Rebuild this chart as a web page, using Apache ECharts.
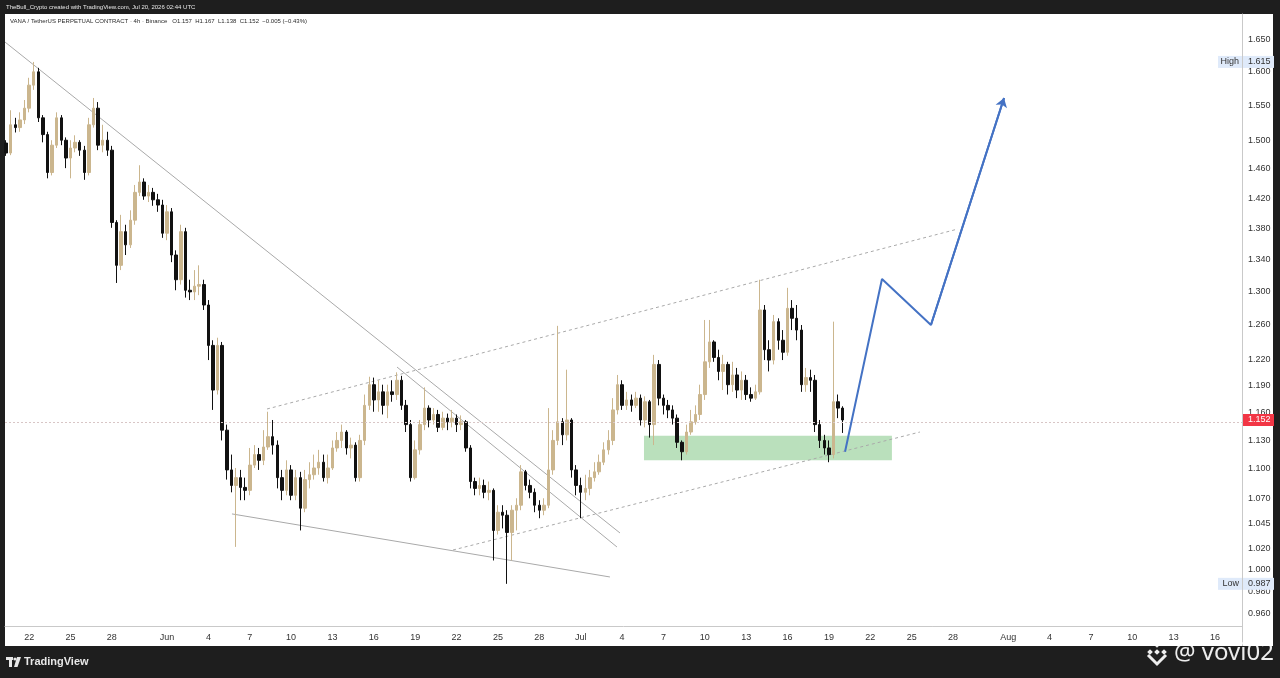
<!DOCTYPE html>
<html>
<head>
<meta charset="utf-8">
<script src="https://cdn.jsdelivr.net/npm/echarts@6/dist/echarts.min.js"></script>
<style>
html,body{margin:0;padding:0;background:#1e1e1e;}
#wrap{position:relative;width:1280px;height:678px;background:#1e1e1e;overflow:hidden;}
#paper{position:absolute;left:5px;top:14px;width:1268px;height:632px;background:#ffffff;}
#c{position:absolute;left:0;top:0;width:1280px;height:678px;}
</style>
</head>
<body>
<div id="wrap"><div id="paper"></div><div id="c"></div></div>
<script>
// ---------------- data ----------------
const candleStart = '2026-05-20T08:00:00Z';   // first candle open time
const candleHours = 8;                         // candle interval

const opens = [
1.496,1.482,1.522,1.518,1.529,1.546,1.580,1.600,1.532,1.508,
1.455,1.493,1.532,1.500,1.475,1.489,1.497,1.486,1.455,1.522,
1.546,1.493,1.500,1.486,1.388,1.333,1.376,1.359,1.391,1.428,
1.442,1.423,1.428,1.418,1.411,1.374,1.402,1.346,1.315,1.376,
1.302,1.300,1.307,1.309,1.284,1.236,1.185,1.236,1.141,1.099,
1.083,1.091,1.081,1.078,1.104,1.115,1.109,1.123,1.134,1.125,
1.091,1.078,1.099,1.073,1.091,1.060,1.089,1.094,1.101,1.107,
1.091,1.101,1.122,1.130,1.139,1.122,1.125,1.091,1.130,1.168,
1.191,1.174,1.183,1.168,1.183,1.180,1.196,1.168,1.147,1.091,
1.120,1.147,1.165,1.152,1.158,1.144,1.154,1.150,1.154,1.147,
1.150,1.122,1.087,1.080,1.083,1.076,1.078,1.038,1.056,1.053,
1.036,1.058,1.063,1.097,1.083,1.076,1.063,1.058,1.063,1.099,
1.130,1.150,1.136,1.152,1.099,1.083,1.076,1.080,1.091,1.097,
1.107,1.120,1.130,1.163,1.191,1.168,1.174,1.168,1.176,1.152,
1.172,1.147,1.214,1.176,1.168,1.163,1.154,1.128,1.118,1.139,
1.150,1.158,1.180,1.217,1.240,1.222,1.206,1.214,1.191,1.202,
1.185,1.196,1.180,1.176,1.183,1.278,1.231,1.219,1.264,1.242,
1.228,1.280,1.268,1.254,1.191,1.199,1.196,1.147,1.130,1.122,
1.115,1.172,1.165
];
const closes = [
1.482,1.522,1.518,1.529,1.546,1.580,1.600,1.532,1.508,1.455,
1.493,1.532,1.500,1.475,1.489,1.497,1.486,1.455,1.522,1.546,
1.493,1.500,1.486,1.388,1.333,1.376,1.359,1.391,1.428,1.442,
1.423,1.428,1.418,1.411,1.374,1.402,1.346,1.315,1.376,1.302,
1.300,1.307,1.309,1.284,1.236,1.185,1.236,1.141,1.099,1.083,
1.091,1.081,1.078,1.104,1.115,1.109,1.123,1.134,1.125,1.091,
1.078,1.099,1.073,1.091,1.060,1.089,1.094,1.101,1.107,1.091,
1.101,1.122,1.130,1.139,1.122,1.125,1.091,1.130,1.168,1.191,
1.174,1.183,1.168,1.183,1.180,1.196,1.168,1.147,1.091,1.120,
1.147,1.165,1.152,1.158,1.144,1.154,1.150,1.154,1.147,1.150,
1.122,1.087,1.080,1.083,1.076,1.078,1.038,1.056,1.053,1.036,
1.058,1.063,1.097,1.083,1.076,1.063,1.058,1.063,1.099,1.130,
1.150,1.136,1.152,1.099,1.083,1.076,1.080,1.091,1.097,1.107,
1.120,1.130,1.163,1.191,1.168,1.174,1.168,1.176,1.152,1.172,
1.147,1.214,1.176,1.168,1.163,1.154,1.128,1.118,1.139,1.150,
1.158,1.180,1.217,1.240,1.222,1.206,1.214,1.191,1.202,1.185,
1.196,1.180,1.176,1.183,1.278,1.231,1.219,1.264,1.242,1.228,
1.280,1.268,1.254,1.191,1.199,1.196,1.147,1.130,1.122,1.115,
1.172,1.165,1.152
];
const lows = [
1.478,1.479,1.511,1.512,1.523,1.540,1.573,1.526,1.497,1.447,
1.451,1.489,1.493,1.461,1.447,1.483,1.478,1.445,1.451,1.518,
1.486,1.483,1.478,1.381,1.311,1.327,1.346,1.355,1.385,1.423,
1.418,1.415,1.410,1.402,1.368,1.365,1.337,1.302,1.309,1.293,
1.290,1.290,1.296,1.278,1.219,1.163,1.180,1.130,1.089,1.076,
1.022,1.068,1.068,1.073,1.101,1.099,1.104,1.120,1.115,1.080,
1.068,1.073,1.068,1.068,1.038,1.056,1.080,1.089,1.094,1.087,
1.085,1.099,1.118,1.122,1.115,1.111,1.087,1.087,1.125,1.163,
1.161,1.161,1.158,1.154,1.172,1.174,1.163,1.139,1.087,1.089,
1.115,1.141,1.144,1.147,1.139,1.141,1.141,1.144,1.139,1.141,
1.118,1.080,1.073,1.073,1.070,1.068,1.009,1.034,1.040,0.987,
1.009,1.038,1.058,1.078,1.070,1.056,1.050,1.053,1.060,1.094,
1.125,1.125,1.130,1.091,1.073,1.050,1.068,1.073,1.087,1.094,
1.104,1.115,1.125,1.158,1.163,1.163,1.161,1.165,1.146,1.144,
1.133,1.125,1.168,1.158,1.154,1.147,1.122,1.109,1.115,1.136,
1.147,1.152,1.174,1.210,1.217,1.196,1.185,1.180,1.183,1.176,
1.174,1.174,1.172,1.174,1.180,1.219,1.206,1.214,1.231,1.219,
1.224,1.254,1.242,1.183,1.183,1.183,1.139,1.122,1.115,1.107,
1.111,1.154,1.138
];
const highs = [
1.500,1.543,1.532,1.540,1.558,1.591,1.615,1.606,1.536,1.512,
1.500,1.540,1.536,1.504,1.500,1.507,1.500,1.492,1.532,1.561,
1.555,1.522,1.512,1.492,1.391,1.398,1.385,1.404,1.438,1.465,
1.447,1.438,1.434,1.426,1.418,1.411,1.407,1.352,1.385,1.381,
1.315,1.327,1.333,1.315,1.290,1.242,1.245,1.240,1.147,1.115,
1.101,1.099,1.091,1.122,1.125,1.122,1.141,1.161,1.152,1.130,
1.099,1.109,1.104,1.099,1.097,1.099,1.107,1.115,1.120,1.115,
1.115,1.130,1.139,1.147,1.141,1.133,1.128,1.136,1.180,1.200,
1.199,1.196,1.191,1.191,1.196,1.205,1.201,1.174,1.152,1.130,
1.152,1.188,1.168,1.165,1.163,1.161,1.159,1.163,1.158,1.157,
1.152,1.125,1.091,1.091,1.089,1.087,1.080,1.063,1.063,1.058,
1.063,1.070,1.104,1.099,1.089,1.080,1.068,1.070,1.165,1.141,
1.259,1.154,1.208,1.154,1.104,1.091,1.094,1.099,1.107,1.115,
1.128,1.141,1.176,1.202,1.196,1.183,1.180,1.183,1.180,1.178,
1.174,1.225,1.219,1.180,1.174,1.168,1.158,1.130,1.147,1.163,
1.168,1.191,1.266,1.266,1.242,1.231,1.225,1.217,1.217,1.210,
1.206,1.202,1.188,1.191,1.315,1.284,1.242,1.272,1.268,1.254,
1.305,1.290,1.284,1.260,1.210,1.208,1.202,1.152,1.136,1.130,
1.264,1.180,1.167
];

// price scale (log) ticks
const yTicks = [1.650,1.600,1.550,1.500,1.460,1.420,1.380,1.340,1.300,1.260,1.220,1.190,1.160,1.130,1.100,1.070,1.045,1.020,1.000,0.980,0.960];
const yMin = 0.9485, yMax = 1.6897;

// time scale
const xMinDate = '2026-05-20T06:00:00Z', xMaxDate = '2026-08-17T23:00:00Z';
const xTickDates = ['2026-05-22','2026-05-25','2026-05-28','2026-06-01','2026-06-04','2026-06-07','2026-06-10','2026-06-13','2026-06-16','2026-06-19','2026-06-22','2026-06-25','2026-06-28','2026-07-01','2026-07-04','2026-07-07','2026-07-10','2026-07-13','2026-07-16','2026-07-19','2026-07-22','2026-07-25','2026-07-28','2026-08-01','2026-08-04','2026-08-07','2026-08-10','2026-08-13','2026-08-16'];
const xTickLabels = ['22','25','28','Jun','4','7','10','13','16','19','22','25','28','Jul','4','7','10','13','16','19','22','25','28','Aug','4','7','10','13','16'];

// price tags
const highValue = 1.615, lowValue = 0.987, lastValue = 1.152;

// drawings (time, price)
const trendMain   = [['2026-05-20T06:00:00Z',1.6456],['2026-07-03T20:24:00Z',1.0355]];
const trendInner  = [['2026-06-17T16:19:00Z',1.211],['2026-07-03T15:07:00Z',1.0219]];
const wedgeLow    = [['2026-06-05T17:02:00Z',1.0543],['2026-07-03T02:53:00Z',0.9934]];
const channelTop  = [['2026-06-08T06:00:00Z',1.164],['2026-07-28T08:40:00Z',1.3795]];
const channelLow  = [['2026-06-21T17:45:00Z',1.019],['2026-07-25T14:24:00Z',1.139]];
const projection  = [['2026-07-20T04:05:00Z',1.118],['2026-07-22T20:24:00Z',1.316],['2026-07-26T09:36:00Z',1.260],['2026-07-31T16:48:00Z',1.561]];
const zoneFrom = '2026-07-05T14:10:00Z', zoneTo = '2026-07-23T13:40:00Z';
const zoneTop = 1.135, zoneBottom = 1.109;

const headerText = 'TheBull_Crypto created with TradingView.com, Jul 20, 2026 02:44 UTC';
const legendText = 'VANA / TetherUS PERPETUAL CONTRACT · 4h · Binance   O1.157  H1.167  L1.138  C1.152  −0.005 (−0.43%)';

// ---------------- build ----------------
const T = s => Date.parse(s.length <= 10 ? s + 'T00:00:00Z' : s);
const t0 = T(candleStart), step = candleHours * 3600 * 1000;
const candles = opens.map((o, i) => [t0 + i * step, o, closes[i], lows[i], highs[i]]);
const xTickTimes = xTickDates.map(T);
const xMin = T(xMinDate), xMax = T(xMaxDate);
const pts = arr => arr.map(p => [T(p[0]), p[1]]);

const UP = '#cbb68e', DOWN = '#111111', GRAYLINE = '#a9a9a9';
const FONT = '"Liberation Sans", Arial, sans-serif';

const chart = echarts.init(document.getElementById('c'), null, {renderer: 'canvas'});

const lineSeries = (data, dashed) => ({
  type: 'line', data: pts(data), symbol: 'none', silent: true, z: 1,
  lineStyle: {color: GRAYLINE, width: 1, type: dashed ? [3, 3] : 'solid'}
});

const xLabel = v => {
  let best = -1, bd = Infinity;
  xTickTimes.forEach((t, k) => { const d = Math.abs(t - v); if (d < bd) { bd = d; best = k; } });
  return bd < 3600000 ? xTickLabels[best] : '';
};

chart.setOption({
  animation: false,
  backgroundColor: 'transparent',
  textStyle: {fontFamily: FONT},
  grid: {left: 5, right: 38, top: 14, bottom: 52, outerBoundsMode: 'none', containLabel: false},
  xAxis: {
    type: 'value', min: xMin, max: xMax, scale: true,
    axisLine: {show: true, lineStyle: {color: '#c9c9c9', width: 1}},
    axisTick: {show: false}, splitLine: {show: false},
    axisLabel: {
      customValues: xTickTimes, hideOverlap: false,
      color: '#333', fontSize: 9, margin: 7, fontFamily: FONT,
      formatter: v => xLabel(Number(v))
    }
  },
  yAxis: {
    type: 'log', logBase: 10, position: 'right', min: yMin, max: yMax,
    axisLine: {show: true, lineStyle: {color: '#c9c9c9', width: 1}},
    axisTick: {show: false}, splitLine: {show: false}, minorTick: {show: false},
    axisLabel: {
      customValues: yTicks, color: '#333', fontSize: 9, margin: 6, fontFamily: FONT,
      formatter: v => Number(v).toFixed(3)
    }
  },
  series: [
    lineSeries(trendMain, false),
    lineSeries(trendInner, false),
    lineSeries(wedgeLow, false),
    lineSeries(channelTop, true),
    lineSeries(channelLow, true),
    {
      type: 'candlestick', data: candles, encode: {x: 0, y: [1, 2, 3, 4]},
      barWidth: 3, z: 3,
      itemStyle: {color: UP, color0: DOWN, borderColor: UP, borderColor0: DOWN, borderWidth: 1},
      markArea: {
        silent: true, itemStyle: {color: 'rgba(102,187,106,0.45)'},
        data: [[{xAxis: T(zoneFrom), yAxis: zoneTop}, {xAxis: T(zoneTo), yAxis: zoneBottom}]]
      },
      markLine: {
        silent: true, symbol: ['none', 'none'], label: {show: false},
        lineStyle: {color: '#d8c6c6', width: 1, type: [2, 2]},
        data: [{yAxis: lastValue}]
      }
    },
    {
      type: 'line', data: pts(projection), symbol: 'none', silent: true, z: 5,
      lineStyle: {color: '#4472c4', width: 2}
    },
    {
      type: 'lines', coordinateSystem: 'cartesian2d', silent: true, z: 5,
      symbol: ['none', 'arrow'], symbolSize: 9,
      lineStyle: {color: '#4472c4', width: 2, opacity: 1},
      data: [{coords: pts(projection.slice(2))}]
    }
  ]
});

// price tags placed through the chart's own scale
const py = v => chart.convertToPixel({gridIndex: 0}, [xMax, v])[1];
const axisX = chart.convertToPixel({gridIndex: 0}, [xMax, lastValue])[0];
const tag = (v, txt, bg, fg) => ([
  {type: 'rect', shape: {x: axisX + 1, y: py(v) - 6, width: 31, height: 12}, style: {fill: bg}, z: 100},
  {type: 'text', x: axisX + 6, y: py(v), style: {text: v.toFixed(3), fill: fg, font: '9px ' + FONT, verticalAlign: 'middle'}, z: 101},
  ...(txt ? [
    {type: 'rect', shape: {x: axisX - 24, y: py(v) - 6, width: 24, height: 12}, style: {fill: bg}, z: 100},
    {type: 'text', x: axisX - 3, y: py(v), style: {text: txt, fill: '#333', font: '9px ' + FONT, verticalAlign: 'middle', align: 'right'}, z: 101}
  ] : [])
]);

const g = [];
g.push(...tag(highValue, 'High', '#dfeafa', '#333'));
g.push(...tag(lowValue, 'Low', '#dfeafa', '#333'));
g.push(...tag(lastValue, '', '#f23645', '#ffffff'));
g.push({type: 'line', shape: {x1: axisX + 0.5, y1: 626, x2: axisX + 0.5, y2: 646}, style: {stroke: '#c9c9c9', lineWidth: 1}, z: 100});
g.push({type: 'text', x: 6, y: 7, style: {text: headerText, fill: '#e6e6e6', font: '6px ' + FONT, verticalAlign: 'middle'}, z: 100});
g.push({type: 'text', x: 10, y: 21, style: {text: legendText, fill: '#2a2a2a', font: '6px ' + FONT, verticalAlign: 'middle'}, z: 100});
g.push({type: 'rect', shape: {x: 6, y: 657, width: 7, height: 3}, style: {fill: '#e8e8e8'}, z: 100});
g.push({type: 'rect', shape: {x: 9, y: 657, width: 3, height: 10}, style: {fill: '#e8e8e8'}, z: 100});
g.push({type: 'circle', shape: {cx: 15, cy: 659, r: 1.6}, style: {fill: '#e8e8e8'}, z: 100});
g.push({type: 'polygon', shape: {points: [[17, 657], [21, 657], [17.5, 667], [14, 667]]}, style: {fill: '#e8e8e8'}, z: 100});
g.push({type: 'text', x: 24, y: 662, style: {text: 'TradingView', fill: '#e8e8e8', font: 'bold 11px ' + FONT, verticalAlign: 'middle'}, z: 100});
const wmc = [1157, 652];
[[0, -7], [-7, 0], [7, 0], [0, 0]].forEach(d => g.push({
  type: 'rect', x: wmc[0] + d[0], y: wmc[1] + d[1], rotation: Math.PI / 4,
  shape: {x: -2, y: -2, width: 4, height: 4}, style: {fill: 'rgba(255,255,255,0.92)'}, z: 100
}));
g.push({type: 'polyline', shape: {points: [[1148, 655], [1157, 664], [1166, 655]]}, style: {stroke: 'rgba(255,255,255,0.92)', lineWidth: 3, fill: null}, z: 100});
g.push({type: 'text', x: 1174, y: 653, style: {text: '@ vovi02', fill: 'rgba(255,255,255,0.92)', font: '24px "Noto Sans", sans-serif', verticalAlign: 'middle', shadowColor: 'rgba(0,0,0,0.35)', shadowBlur: 2}, z: 100});

chart.setOption({graphic: g});
</script>
</body>
</html>
